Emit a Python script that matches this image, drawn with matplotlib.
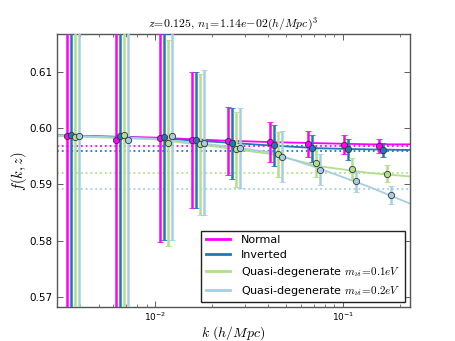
import matplotlib
matplotlib.use('Agg')
import matplotlib.pyplot as plt
import numpy as np

plt.rcParams['mathtext.fontset'] = 'cm'

# measured k bins (h/Mpc) and growth rate f(k,z) per hierarchy
k_bins = [0.0034, 0.00618, 0.01063, 0.0158, 0.0245, 0.0408, 0.0653, 0.1009, 0.155]

f_normal = [0.5985, 0.5978, 0.5983, 0.5979, 0.5977, 0.5975, 0.5972, 0.5970, 0.5968]
f_inverted = [0.5988, 0.5985, 0.5984, 0.5978, 0.5973, 0.5969, 0.5964, 0.5962, 0.5961]
f_qd01 = [0.5984, 0.5987, 0.5973, 0.5971, 0.5962, 0.5953, 0.5938, 0.5927, 0.5919]
f_qd02 = [0.5985, 0.5978, 0.5986, 0.5974, 0.5965, 0.5949, 0.5926, 0.5905, 0.5881]

err_normal = [0.06, 0.04, 0.0185, 0.0121, 0.0061, 0.0035, 0.0023, 0.0017, 0.0013]
err_inverted = [0.06, 0.04, 0.0183, 0.0121, 0.0063, 0.0037, 0.0024, 0.0018, 0.0013]
err_qd01 = [0.06, 0.04, 0.0183, 0.0125, 0.0066, 0.0040, 0.0025, 0.0020, 0.0015]
err_qd02 = [0.06, 0.04, 0.0185, 0.0129, 0.0071, 0.0045, 0.0028, 0.0018, 0.0016]

# theory curves
k_theory = [0.003, 0.01, 0.022, 0.041, 0.075, 0.139, 0.226]
th_normal = [0.5987, 0.5983, 0.5978, 0.5975, 0.5973, 0.5971, 0.5971]
th_inverted = [0.5987, 0.5982, 0.5975, 0.5969, 0.5964, 0.5962, 0.5961]
th_qd01 = [0.5986, 0.5980, 0.5966, 0.5954, 0.5932, 0.5920, 0.5914]
th_qd02 = [0.5987, 0.5981, 0.5969, 0.5957, 0.5928, 0.5895, 0.5866]

# large-scale limits (dotted)
f_limit = [0.5968, 0.5959, 0.5920, 0.5892]

labels = ['Normal', 'Inverted',
          'Quasi-degenerate $m_{\\nu i}\\!=\\!0.1eV$',
          'Quasi-degenerate $m_{\\nu i}\\!=\\!0.2eV$']
colors = ['#ff00ff', '#1f78b4', '#b2df8a', '#a6cee3']

series = [(f_normal, err_normal, th_normal),
          (f_inverted, err_inverted, th_inverted),
          (f_qd01, err_qd01, th_qd01),
          (f_qd02, err_qd02, th_qd02)]

fig = plt.figure(figsize=(4.55, 3.41), dpi=100)
ax = fig.add_axes([0.125, 0.1, 0.775, 0.8])

k_arr = np.array(k_bins)
for i, ((f, e, th), c, lab) in enumerate(zip(series, colors, labels)):
    shift = 1.05 ** i
    ax.plot(k_theory, th, color=c, lw=1.3, label=lab, zorder=2)
    ax.axhline(f_limit[i], color=c, ls=':', lw=1.3, zorder=1)
    ax.errorbar(k_arr * shift, f, yerr=e, fmt='o', color=c, ecolor=c,
                mfc=c, mec='#333333', mew=0.6, ms=4.5, elinewidth=1.8,
                capsize=2.5, capthick=1.2, zorder=3)

ax.set_xscale('log')
ax.set_xlim(0.0030, 0.226)
ax.set_ylim(0.5682, 0.6167)
ax.set_yticks([0.57, 0.58, 0.59, 0.60, 0.61])
ax.set_yticklabels(['0.57', '0.58', '0.59', '0.60', '0.61'])

ax.tick_params(which='both', direction='in', top=True, right=True,
               labelsize=7.5, color='#444444')
ax.tick_params(which='major', length=4, width=0.6)
ax.tick_params(which='minor', length=2, width=0.5)
ax.tick_params(axis='x', labelsize=6.5, pad=2.5)
for s in ax.spines.values():
    s.set_color('#555555')
    s.set_linewidth(1.0)

ax.set_xlabel('$k\\ (h/Mpc)$', fontsize=10, labelpad=1)
ax.set_ylabel('$f(k,z)$', fontsize=10.5)
ax.yaxis.set_label_coords(-0.078, 0.5)
ax.set_title('$z\\!=\\!0.125,\\,n_1\\!=\\!1.14e\\!-\\!02(h/Mpc)^3$', fontsize=8.5, pad=5)

leg = ax.legend(loc='lower right', fontsize=8, fancybox=False, framealpha=1,
                handlelength=2.2, handletextpad=1.0, borderaxespad=0.4,
                labelspacing=0.45, borderpad=0.4)
leg.get_frame().set_edgecolor('#222222')
leg.get_frame().set_linewidth(1.0)
for line in leg.get_lines():
    line.set_linewidth(2.0)

fig.savefig('out.png', dpi=100)
